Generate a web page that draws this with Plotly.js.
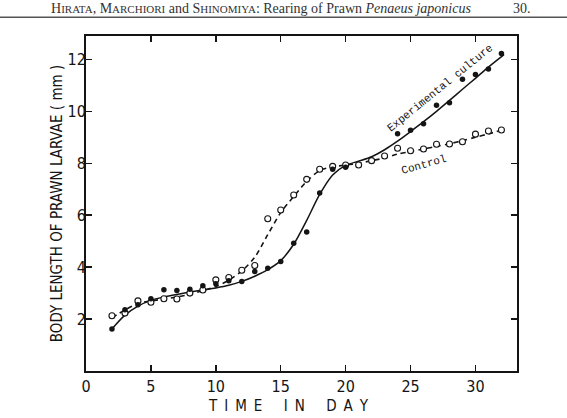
<!DOCTYPE html>
<html>
<head>
<meta charset="utf-8">
<script src="https://cdn.plot.ly/plotly-3.0.1.min.js"></script>
<style>
  html, body { margin: 0; padding: 0; background: #fff; }
  #chart { width: 567px; height: 418px; }
</style>
</head>
<body>
<div id="chart"></div>
<script>
// Body length (mm) of prawn larvae by day of rearing
const days = [2,3,4,5,6,7,8,9,10,11,12,13,14,15,16,17,18,19,20,21,22,23,24,25,26,27,28,29,30,31,32];

// Control: measured lengths
const controlLength = [2.13,2.23,2.70,2.65,2.78,2.77,3.00,3.12,3.51,3.60,3.88,4.06,5.86,6.20,6.78,7.38,7.77,7.88,7.93,7.93,8.10,8.28,8.58,8.48,8.55,8.73,8.74,8.83,9.12,9.24,9.28];

// Experimental culture: measured lengths
const expDays = [2,3,4,5,6,7,8,9,10,11,12,13,14,15,16,17,18,19,20,24,25,26,27,28,29,30,31,32];
const expLength = [1.62,2.36,2.55,2.78,3.13,3.10,3.15,3.28,3.36,3.48,3.45,3.83,3.96,4.22,4.92,5.35,6.85,7.77,7.85,9.14,9.27,9.52,10.23,10.33,11.23,11.42,11.63,12.23];

// Smoothed growth curves drawn through each series
const curveDays = [2,3,4,5,6,7,8,9,10,11,12,13,14,15,16,17,18,19,20,21,22,23,24,25,26,27,28,29,30,31,32.2];
const controlCurve = [2.05,2.35,2.60,2.70,2.77,2.85,2.95,3.10,3.25,3.50,3.85,4.38,5.25,6.10,6.72,7.30,7.72,7.86,7.93,8.00,8.10,8.20,8.35,8.45,8.55,8.65,8.75,8.87,9.00,9.13,9.30];
const expCurve = [1.62,2.15,2.50,2.72,2.85,2.95,3.04,3.12,3.20,3.30,3.45,3.65,3.90,4.25,4.88,5.80,6.80,7.55,7.92,8.08,8.25,8.52,8.85,9.22,9.60,10.00,10.42,10.85,11.27,11.70,12.18];

const xTicks = [0,5,10,15,20,25,30];
const yTicks = [2,4,6,8,10,12];

const ink = '#141414';
const narrow = '"Liberation Sans Narrow", "DejaVu Sans Condensed", "Arial Narrow", sans-serif';
const tickFont = { family: narrow, size: 16, color: ink };
const monoFont = { family: '"Liberation Mono", "DejaVu Sans Mono", monospace', size: 11, color: ink };
const serif = '"Liberation Serif", "DejaVu Serif", serif';
const nb = '\u00a0';
const gap = nb + '\u2009';

const traces = [
  { x: curveDays, y: controlCurve, type: 'scatter', mode: 'lines',
    line: { color: ink, width: 1.6, dash: '5px,4px', shape: 'spline', smoothing: 0.8 },
    hoverinfo: 'skip', showlegend: false },
  { x: curveDays, y: expCurve, type: 'scatter', mode: 'lines',
    line: { color: ink, width: 1.5, shape: 'spline', smoothing: 0.8 },
    hoverinfo: 'skip', showlegend: false },
  { x: days, y: controlLength, type: 'scatter', mode: 'markers', name: 'Control',
    marker: { symbol: 'circle', size: 6, color: '#fff', line: { color: ink, width: 1.1 } },
    showlegend: false },
  { x: expDays, y: expLength, type: 'scatter', mode: 'markers', name: 'Experimental culture',
    marker: { symbol: 'circle', size: 5.5, color: ink, line: { width: 0 } },
    showlegend: false }
];

const axisBase = {
  showgrid: false, zeroline: false, showline: true, linecolor: ink, linewidth: 2,
  mirror: 'ticks', ticks: 'inside', ticklen: 6, tickwidth: 1.5, tickcolor: ink,
  tickfont: tickFont
};

const layout = {
  width: 567, height: 418,
  margin: { l: 86, r: 50, t: 36, b: 47 },
  paper_bgcolor: '#fff', plot_bgcolor: '#fff',
  xaxis: Object.assign({}, axisBase, { range: [0, 33.2], tickvals: xTicks, ticktext: xTicks.map(String), ticklabelstandoff: 0 }),
  yaxis: Object.assign({}, axisBase, { range: [0, 12.9], tickvals: yTicks, ticktext: yTicks.map(String), ticklabelstandoff: -5,
    title: { text: 'BODY LENGTH OF PRAWN LARVAE ( mm )', font: { family: narrow, size: 15, color: ink }, standoff: 1 } }),
  annotations: [
    { x: 27.3, y: 10.9, xref: 'x', yref: 'y', text: 'Experimental culture', showarrow: false,
      textangle: -39, font: monoFont },
    { x: 26.0, y: 7.92, xref: 'x', yref: 'y', text: 'Control', showarrow: false,
      textangle: -16, font: monoFont },
    { x: 15.6, y: -0.105, xref: 'x', yref: 'paper', yanchor: 'middle', showarrow: false,
      text: ['T','I','M','E'].join(gap) + nb.repeat(5) + ['I','N'].join(gap) + nb.repeat(5) + ['D','A','Y'].join(gap),
      font: { family: narrow, size: 15, color: ink } },
    { x: -0.085, y: 1.083, xref: 'paper', yref: 'paper', xanchor: 'left', yanchor: 'middle', showarrow: false,
      text: 'H<span style="font-size:11px">IRATA</span>, M<span style="font-size:11px">ARCHIORI</span> and S<span style="font-size:11px">HINOMIYA</span>: Rearing of Prawn <i>Penaeus japonicus</i>',
      font: { family: serif, size: 14, color: '#333' } },
    { x: 0.985, y: 1.083, xref: 'paper', yref: 'paper', xanchor: 'left', yanchor: 'middle', showarrow: false,
      text: '30.', font: { family: serif, size: 14, color: '#333' } }
  ],
  shapes: [
    { type: 'line', xref: 'paper', yref: 'paper', x0: -0.2, x1: 1.12, y0: 1.056, y1: 1.056,
      line: { color: '#555', width: 1.3 } }
  ]
};

Plotly.newPlot('chart', traces, layout, { staticPlot: true, displayModeBar: false });
</script>
</body>
</html>
